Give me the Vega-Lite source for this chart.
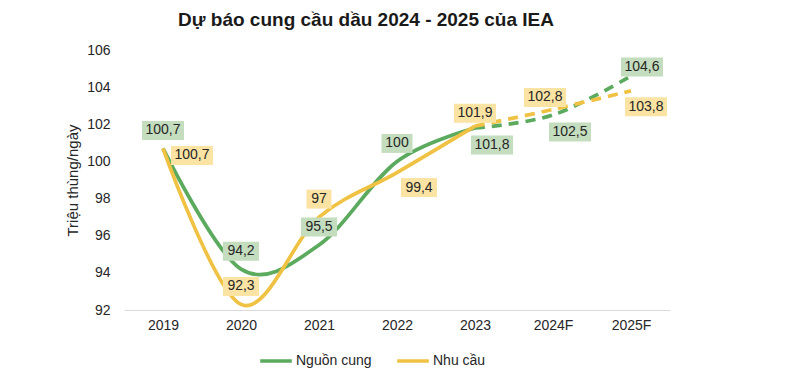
{
  "$schema": "https://vega.github.io/schema/vega-lite/v6.json",
  "width": 546,
  "height": 260,
  "autosize": {"type": "none"},
  "padding": {"left": 124, "top": 50, "right": 124, "bottom": 68},
  "background": "white",
  "config": {"font": "Liberation Sans", "view": {"stroke": null}},
  "title": {"text": "Dự báo cung cầu dầu 2024 - 2025 của IEA", "fontSize": 19, "fontWeight": "bold", "color": "#1a1a1a", "anchor": "middle", "dx": -31, "offset": 13},
  "datasets": {
    "oil": [
      {"year": "2019", "series": "Nguồn cung", "value": 100.7},
      {"year": "2020", "series": "Nguồn cung", "value": 94.2},
      {"year": "2021", "series": "Nguồn cung", "value": 95.5},
      {"year": "2022", "series": "Nguồn cung", "value": 100},
      {"year": "2023", "series": "Nguồn cung", "value": 101.8},
      {"year": "2024F", "series": "Nguồn cung", "value": 102.5},
      {"year": "2025F", "series": "Nguồn cung", "value": 104.6},
      {"year": "2019", "series": "Nhu cầu", "value": 100.7},
      {"year": "2020", "series": "Nhu cầu", "value": 92.3},
      {"year": "2021", "series": "Nhu cầu", "value": 97},
      {"year": "2022", "series": "Nhu cầu", "value": 99.4},
      {"year": "2023", "series": "Nhu cầu", "value": 101.9},
      {"year": "2024F", "series": "Nhu cầu", "value": 102.8},
      {"year": "2025F", "series": "Nhu cầu", "value": 103.8}
    ]
  },
  "data": {"name": "oil"},
  "encoding": {
    "x": {
      "field": "year", "type": "ordinal",
      "scale": {"type": "point", "padding": 0.5, "domain": ["2019", "2020", "2021", "2022", "2023", "2024F", "2025F"]},
      "axis": {"title": null, "labelAngle": 0, "labelFontSize": 14, "labelColor": "#262626", "labelPadding": 8, "ticks": false, "domainColor": "#d9d9d9", "domainWidth": 1, "grid": false}
    },
    "y": {
      "field": "value", "type": "quantitative",
      "scale": {"domain": [92, 106], "nice": false, "zero": false},
      "axis": {"values": [92, 94, 96, 98, 100, 102, 104, 106], "domain": false, "ticks": false, "grid": false, "labelFontSize": 14, "labelColor": "#262626", "labelPadding": 14, "title": "Triệu thùng/ngày", "titleFontSize": 15, "titleFontWeight": "normal", "titleColor": "#262626", "titlePadding": 6}
    }
  },
  "layer": [
    {
      "transform": [{"filter": {"field": "year", "oneOf": ["2019", "2020", "2021", "2022", "2023"]}}],
      "mark": {"type": "line", "interpolate": "cardinal", "strokeWidth": 3.7},
      "encoding": {
        "color": {"field": "series", "type": "nominal",
          "scale": {"domain": ["Nguồn cung", "Nhu cầu"], "range": ["#5BAA5E", "#F0C243"]},
          "legend": {"orient": "none", "legendX": 134, "legendY": 293, "direction": "horizontal", "title": null, "symbolType": "stroke", "symbolStrokeWidth": 3.5, "symbolSize": 1000, "labelFontSize": 14, "labelColor": "#262626", "labelOffset": 2, "columnPadding": 18}
        }
      }
    },
    {
      "transform": [{"filter": {"field": "year", "oneOf": ["2023", "2024F", "2025F"]}}],
      "mark": {"type": "line", "interpolate": "cardinal", "strokeWidth": 3.7, "strokeDash": [10, 7]},
      "encoding": {
        "color": {"field": "series", "type": "nominal"}
      }
    },
    {
      "transform": [
        {"calculate": "(datum.series == 'Nguồn cung' ? 'S' : 'D') + datum.year", "as": "key"},
        {"calculate": "replace(format(datum.value, '.1~f'), '.', ',')", "as": "label"},
        {"calculate": "toString(length(replace(format(datum.value, '.1~f'), '.', ',')))", "as": "n"}
      ],
      "encoding": {
        "shape": {"field": "n", "type": "nominal", "scale": {"domain": ["2", "3", "4", "5"], "range": ["M-0.595,-0.452H0.595V0.452H-0.595Z", "M-0.738,-0.452H0.738V0.452H-0.738Z", "M-0.86,-0.452H0.86V0.452H-0.86Z", "M-1,-0.452H1V0.452H-1Z"]}, "legend": null},
        "fill": {"field": "series", "type": "nominal", "scale": {"domain": ["Nguồn cung", "Nhu cầu"], "range": ["#C4DDBE", "#FBE3A3"]}, "legend": null},
        "text": {"field": "label", "type": "nominal"}
      },
      "layer": [
        {
          "transform": [{"filter": {"field": "key", "oneOf": ["S2019", "S2020", "S2021", "S2022", "D2020", "D2021"]}}],
          "layer": [
            {"mark": {"type": "point", "filled": true, "opacity": 1, "size": 1764, "yOffset": -18}},
            {"mark": {"type": "text", "fontSize": 14, "yOffset": -18}, "encoding": {"fill": {"value": "#262626"}}}
          ]
        },
        {
          "transform": [{"filter": {"field": "key", "oneOf": ["S2023", "S2024F"]}}],
          "layer": [
            {"mark": {"type": "point", "filled": true, "opacity": 1, "size": 1764, "xOffset": 17, "yOffset": 17}},
            {"mark": {"type": "text", "fontSize": 14, "xOffset": 17, "yOffset": 17}, "encoding": {"fill": {"value": "#262626"}}}
          ]
        },
        {
          "transform": [{"filter": {"field": "key", "oneOf": ["S2025F"]}}],
          "layer": [
            {"mark": {"type": "point", "filled": true, "opacity": 1, "size": 1764, "xOffset": 11, "yOffset": -9}},
            {"mark": {"type": "text", "fontSize": 14, "xOffset": 11, "yOffset": -9}, "encoding": {"fill": {"value": "#262626"}}}
          ]
        },
        {
          "transform": [{"filter": {"field": "key", "oneOf": ["D2023"]}}],
          "layer": [
            {"mark": {"type": "point", "filled": true, "opacity": 1, "size": 1764, "xOffset": 0, "yOffset": -13}},
            {"mark": {"type": "text", "fontSize": 14, "xOffset": 0, "yOffset": -13}, "encoding": {"fill": {"value": "#262626"}}}
          ]
        },
        {
          "transform": [{"filter": {"field": "key", "oneOf": ["D2024F"]}}],
          "layer": [
            {"mark": {"type": "point", "filled": true, "opacity": 1, "size": 1764, "xOffset": -8, "yOffset": -12}},
            {"mark": {"type": "text", "fontSize": 14, "xOffset": -8, "yOffset": -12}, "encoding": {"fill": {"value": "#262626"}}}
          ]
        },
        {
          "transform": [{"filter": {"field": "key", "oneOf": ["D2019"]}}],
          "layer": [
            {"mark": {"type": "point", "filled": true, "opacity": 1, "size": 1764, "xOffset": 29, "yOffset": 7}},
            {"mark": {"type": "text", "fontSize": 14, "xOffset": 29, "yOffset": 7}, "encoding": {"fill": {"value": "#262626"}}}
          ]
        },
        {
          "transform": [{"filter": {"field": "key", "oneOf": ["D2022"]}}],
          "layer": [
            {"mark": {"type": "point", "filled": true, "opacity": 1, "size": 1764, "xOffset": 22, "yOffset": 15}},
            {"mark": {"type": "text", "fontSize": 14, "xOffset": 22, "yOffset": 15}, "encoding": {"fill": {"value": "#262626"}}}
          ]
        },
        {
          "transform": [{"filter": {"field": "key", "oneOf": ["D2025F"]}}],
          "layer": [
            {"mark": {"type": "point", "filled": true, "opacity": 1, "size": 1764, "xOffset": 15, "yOffset": 16}},
            {"mark": {"type": "text", "fontSize": 14, "xOffset": 15, "yOffset": 16}, "encoding": {"fill": {"value": "#262626"}}}
          ]
        }
      ]
    }
  ]
}
